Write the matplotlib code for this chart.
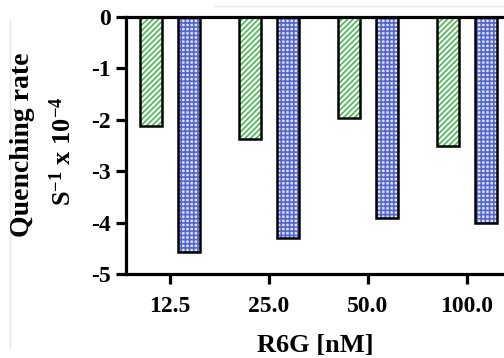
import numpy as np
import matplotlib
matplotlib.use("Agg")
import matplotlib.pyplot as plt
from matplotlib.lines import Line2D

# data
concentrations = ["12.5", "25.0", "50.0", "100.0"]
rate_green = [-2.13, -2.37, -1.97, -2.50]
rate_blue = [-4.57, -4.30, -3.92, -4.00]
y_ticks = [0, -1, -2, -3, -4, -5]

plt.rcParams["font.family"] = "Liberation Serif"
plt.rcParams["font.weight"] = "bold"
plt.rcParams["mathtext.fontset"] = "custom"
plt.rcParams["mathtext.rm"] = "Liberation Serif:bold"
plt.rcParams["mathtext.it"] = "Liberation Serif:bold"
plt.rcParams["mathtext.bf"] = "Liberation Serif:bold"
plt.rcParams["hatch.linewidth"] = 1.2

fig = plt.figure(figsize=(5.04, 3.58), dpi=100)
ax = fig.add_axes([126 / 504, 84 / 358, 378 / 504, 257 / 358])

x = np.arange(len(concentrations))
w = 0.225
off = 0.19

# hatched fills
ax.bar(x - off, rate_green, w, color="white", edgecolor="#45bb50", hatch="//////", linewidth=0)
ax.bar(x + off, rate_blue, w, color="#dfe3f6", edgecolor="#5566cc", hatch="++++", linewidth=0)
# black outlines
ax.bar(x - off, rate_green, w, fill=False, edgecolor="black", linewidth=1.8)
ax.bar(x + off, rate_blue, w, fill=False, edgecolor="black", linewidth=1.8)

ax.set_ylim(-5, 0)
ax.set_xlim((126 - 170) / 99, (504 - 170) / 99)
ax.set_yticks(y_ticks)
ax.set_yticklabels([str(v) for v in y_ticks])
ax.set_xticks(x)
ax.set_xticklabels(concentrations)

for s in ["left", "bottom", "top"]:
    ax.spines[s].set_linewidth(2.3)
ax.spines["right"].set_visible(False)
ax.tick_params(axis="both", width=2.3, length=7, labelsize=17, pad=4)
ax.tick_params(axis="x", pad=9)

ax.set_xlabel("R6G [nM]", fontsize=19, fontweight="bold", labelpad=12)
fig.text(23 / 504, 1 - 145 / 358, "Quenching rate", rotation=90, fontsize=20,
         fontweight="bold", ha="center", va="center")
fig.text(63 / 504, 1 - 151 / 358, r"S$^{-1}$ x 10$^{-4}$", rotation=90, fontsize=19,
         fontweight="bold", ha="center", va="center")

# faint screenshot borders
fig.add_artist(Line2D([10 / 504, 10 / 504], [1 - 348 / 358, 1 - 20 / 358],
                      transform=fig.transFigure, color="#e6e6e6", lw=1))
fig.add_artist(Line2D([215 / 504, 1], [1 - 6 / 358, 1 - 6 / 358],
                      transform=fig.transFigure, color="#e6e6e6", lw=1))

fig.savefig("out.png", dpi=100)
